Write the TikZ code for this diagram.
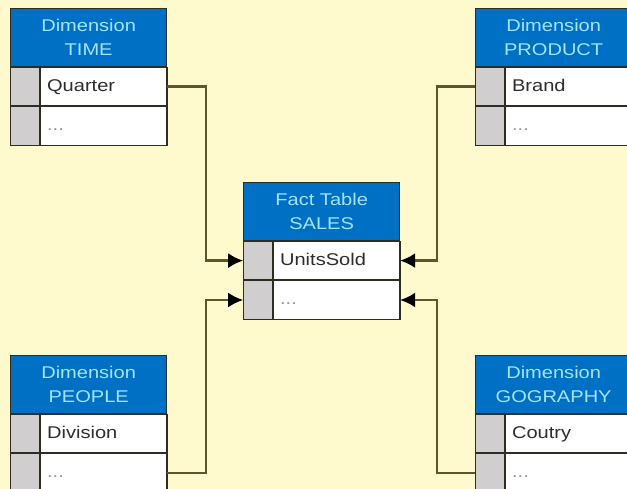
\documentclass[tikz,border=0pt]{standalone}
\usepackage{fontspec}
\usetikzlibrary{matrix,positioning,arrows.meta}
\newfontfamily\tablefont{Liberation Sans}[FakeStretch=1.18]
\definecolor{bgyellow}{RGB}{255,250,206}
\definecolor{headblue}{RGB}{0,112,196}
\definecolor{headtext}{RGB}{165,228,255}
\definecolor{keygray}{RGB}{208,206,206}
\definecolor{linkcol}{RGB}{92,86,44}
\definecolor{framecol}{RGB}{45,45,35}
\definecolor{rowtext}{RGB}{45,45,45}
\definecolor{dotgray}{RGB}{150,150,150}
\newcommand{\more}{\textcolor{dotgray}{...}}

\begin{document}
\begin{tikzpicture}[x=1pt,y=-1pt]

\tikzset{table head/.style={
    draw=framecol, line width=1.3pt,
    fill=headblue, text=headtext,
    minimum width=#1, minimum height=58pt,
    align=center, inner sep=0pt,
    font=\tablefont\fontsize{17}{24}\selectfont,
    anchor=north west
  },
  table head/.default=156pt,
  field matrix/.style={
    matrix of nodes, nodes in empty cells,
    inner sep=0pt, outer sep=0pt,
    column sep=-\pgflinewidth, row sep=-\pgflinewidth,
    nodes={draw=framecol, line width=1.3pt,
      minimum height=38.5pt,
      anchor=center,
      inner sep=0pt,
      text height=12pt, text depth=3pt
    },
    column 1/.style={nodes={fill=keygray, minimum width=29pt}},
    column 2/.style={nodes={fill=white, text=rowtext,
      text width=113pt, inner xsep=7pt, align=left,
      font=\tablefont\fontsize{17}{20}\selectfont}}
  },
  link/.style={draw=linkcol, line width=2.4pt,
    -{Latex[length=15pt,width=15pt,color=black]}}
}

\useasboundingbox[fill=bgyellow] (0,0) rectangle (627,489);

% fact table
\node[table head] (factH) at (243,182) {Fact Table\\SALES};
\matrix[field matrix, below=-0.6pt of factH] (factM)
{
 & UnitsSold \\
 & \more \\
};

% dimension tables
\node[table head] (timeH) at (10,8) {Dimension\\TIME};
\matrix[field matrix, below=-0.6pt of timeH] (timeM)
{
 & Quarter \\
 & \more \\
};

\node[table head] (prodH) at (475,8) {Dimension\\PRODUCT};
\matrix[field matrix, below=-0.6pt of prodH] (prodM)
{
 & Brand \\
 & \more \\
};

\node[table head] (peopH) at (10,355) {Dimension\\PEOPLE};
\matrix[field matrix, below=-0.6pt of peopH] (peopM)
{
 & Division \\
 & \more \\
};

\node[table head] (geoH) at (475,355) {Dimension\\GOGRAPHY};
\matrix[field matrix, below=-0.6pt of geoH] (geoM)
{
 & Coutry \\
 & \more \\
};

% links
\draw[link] (timeM-1-2.east) -- ++(39,0) |- (factM-1-1.west);
\draw[link] (peopM-2-2.east) -- ++(39,0) |- (factM-2-1.west);
\draw[link] (prodM-1-1.west) -- ++(-38,0) |- (factM-1-2.east);
\draw[link] (geoM-2-1.west) -- ++(-38,0) |- (factM-2-2.east);

\end{tikzpicture}
\end{document}
